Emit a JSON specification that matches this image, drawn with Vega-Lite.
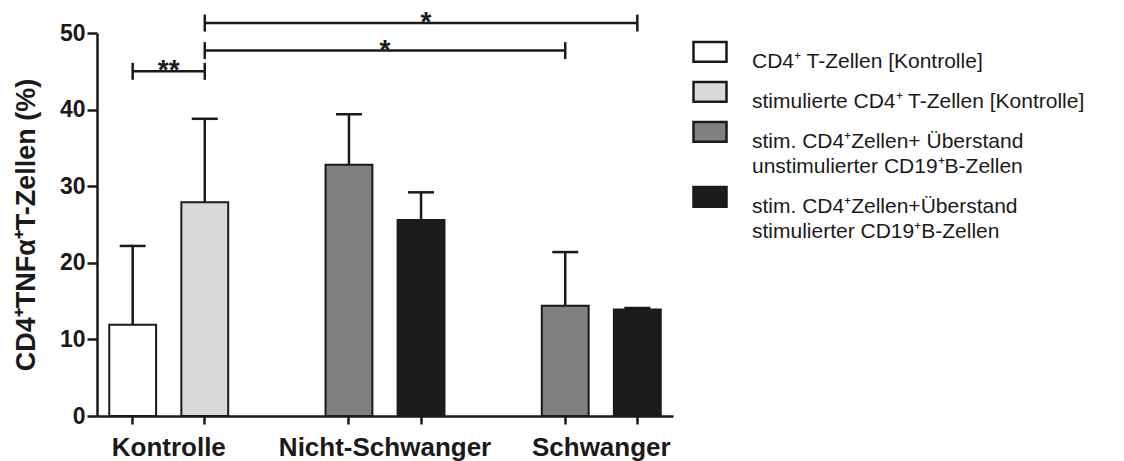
{
  "$schema": "https://vega.github.io/schema/vega-lite/v6.json",
  "autosize": "none",
  "width": 576,
  "height": 383,
  "padding": {"left": 97, "top": 33, "right": 451, "bottom": 45},
  "background": "white",
  "config": {
    "font": "Liberation Sans",
    "view": {"stroke": null},
    "axis": {"grid": false, "domainColor": "#1a1a1a", "domainWidth": 2.5, "tickColor": "#1a1a1a", "tickWidth": 2.5, "labelColor": "#1a1a1a", "titleColor": "#1a1a1a", "labelFont": "Liberation Sans", "titleFont": "Liberation Sans"}
  },
  "datasets": {
    "bars": [
      {"bar": "K1", "group": "Kontrolle", "series": "CD4⁺ T-Zellen [Kontrolle]", "value": 11.9, "upper": 22.2},
      {"bar": "K2", "group": "Kontrolle", "series": "stimulierte CD4⁺ T-Zellen [Kontrolle]", "value": 27.9, "upper": 38.8},
      {"bar": "N1", "group": "Nicht-Schwanger", "series": "stim. CD4⁺Zellen+ Überstand|unstimulierter CD19⁺B-Zellen", "value": 32.8, "upper": 39.4},
      {"bar": "N2", "group": "Nicht-Schwanger", "series": "stim. CD4⁺Zellen+Überstand|stimulierter CD19⁺B-Zellen", "value": 25.6, "upper": 29.2},
      {"bar": "S1", "group": "Schwanger", "series": "stim. CD4⁺Zellen+ Überstand|unstimulierter CD19⁺B-Zellen", "value": 14.4, "upper": 21.4},
      {"bar": "S2", "group": "Schwanger", "series": "stim. CD4⁺Zellen+Überstand|stimulierter CD19⁺B-Zellen", "value": 13.9, "upper": 14.1}
    ],
    "brackets": [
      {"from": "K1", "to": "K2", "level": 45.0, "label": "**", "anchor": "K1"},
      {"from": "K2", "to": "S1", "level": 47.7, "label": "*", "anchor": "N1"},
      {"from": "K2", "to": "S2", "level": 51.3, "label": "*", "anchor": "N2"}
    ]
  },
  "encoding": {
    "x": {
      "field": "bar", "type": "nominal",
      "scale": {"domain": ["K1", "K2", "gap1", "N1", "N2", "gap2", "S1", "S2"], "paddingInner": 0.35, "paddingOuter": 0.17},
      "axis": {
        "title": null, "values": ["K1", "K2", "N1", "N2", "S1", "S2"],
        "labelExpr": "datum.value == 'K2' ? 'Kontrolle' : datum.value == 'N2' ? 'Nicht-Schwanger' : datum.value == 'S2' ? 'Schwanger' : ''",
        "labelOffset": -36, "labelAngle": 0, "labelFontSize": 26, "labelFontWeight": "bold",
        "labelPadding": 10, "tickSize": 8, "labelOverlap": false, "labelBound": false, "labelLimit": 400
      }
    }
  },
  "layer": [
    {
      "data": {"name": "bars"},
      "mark": {"type": "bar", "stroke": "#1a1a1a", "strokeWidth": 2},
      "encoding": {
        "y": {
          "field": "value", "type": "quantitative",
          "scale": {"domain": [0, 50], "nice": false},
          "axis": {"title": "CD4⁺TNFα⁺T-Zellen (%)", "titleFontSize": 27, "titleFontWeight": "bold", "titlePadding": 19, "values": [0, 10, 20, 30, 40, 50], "labelFontSize": 23, "labelFontWeight": "bold", "tickSize": 10, "labelPadding": 2}
        },
        "fill": {
          "field": "series", "type": "nominal",
          "scale": {
            "domain": ["CD4⁺ T-Zellen [Kontrolle]", "stimulierte CD4⁺ T-Zellen [Kontrolle]", "stim. CD4⁺Zellen+ Überstand|unstimulierter CD19⁺B-Zellen", "stim. CD4⁺Zellen+Überstand|stimulierter CD19⁺B-Zellen"],
            "range": ["#ffffff", "#d9d9d9", "#808080", "#1c1c1c"]
          },
          "legend": {
            "title": null, "orient": "right", "offset": 19, "padding": 0,
            "symbolType": "M-1,-0.55H1V0.65H-1Z", "symbolSize": 1089,
            "symbolStrokeColor": "#1a1a1a", "symbolStrokeWidth": 2.5,
            "labelFont": "Liberation Sans", "labelFontSize": 21, "labelColor": "#1a1a1a",
            "labelOffset": 24, "labelLimit": 600, "labelBaseline": "top",
            "labelExpr": "split(datum.label, '|')",
            "rowPadding": 1,
            "encode": {"labels": {"update": {"lineHeight": {"value": 25}}}}
          }
        }
      }
    },
    {
      "data": {"name": "bars"},
      "mark": {"type": "rule", "color": "#1a1a1a", "strokeWidth": 2.5},
      "encoding": {"y": {"field": "value", "type": "quantitative"}, "y2": {"field": "upper"}}
    },
    {
      "data": {"name": "bars"},
      "mark": {"type": "tick", "color": "#1a1a1a", "size": 26, "thickness": 2.5, "opacity": 1},
      "encoding": {"y": {"field": "upper", "type": "quantitative"}}
    },
    {
      "data": {"name": "brackets"},
      "mark": {"type": "rule", "color": "#1a1a1a", "strokeWidth": 2.5},
      "encoding": {"x": {"field": "from", "type": "nominal"}, "x2": {"field": "to"}, "y": {"field": "level", "type": "quantitative"}}
    },
    {
      "data": {"name": "brackets"},
      "mark": {"type": "tick", "orient": "vertical", "color": "#1a1a1a", "size": 17, "thickness": 2.5, "opacity": 1},
      "encoding": {"x": {"field": "from", "type": "nominal"}, "y": {"field": "level", "type": "quantitative"}}
    },
    {
      "data": {"name": "brackets"},
      "mark": {"type": "tick", "orient": "vertical", "color": "#1a1a1a", "size": 17, "thickness": 2.5, "opacity": 1},
      "encoding": {"x": {"field": "to", "type": "nominal"}, "y": {"field": "level", "type": "quantitative"}}
    },
    {
      "data": {"name": "brackets"},
      "transform": [{"filter": "datum.anchor != 'N2'"}],
      "mark": {"type": "text", "fontSize": 28, "fontWeight": "bold", "color": "#1a1a1a", "baseline": "alphabetic", "dx": 36, "dy": 8},
      "encoding": {"x": {"field": "anchor", "type": "nominal"}, "y": {"field": "level", "type": "quantitative"}, "text": {"field": "label"}}
    },
    {
      "data": {"name": "brackets"},
      "transform": [{"filter": "datum.anchor == 'N2'"}],
      "mark": {"type": "text", "fontSize": 28, "fontWeight": "bold", "color": "#1a1a1a", "baseline": "alphabetic", "dx": 5, "dy": 8},
      "encoding": {"x": {"field": "anchor", "type": "nominal"}, "y": {"field": "level", "type": "quantitative"}, "text": {"field": "label"}}
    }
  ]
}
